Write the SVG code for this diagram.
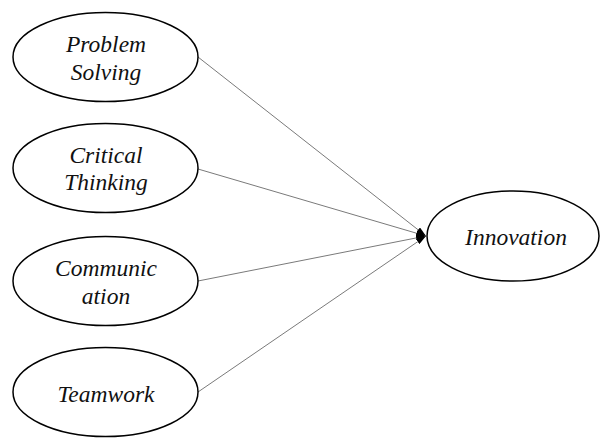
<svg xmlns="http://www.w3.org/2000/svg" width="600" height="438" viewBox="0 0 600 438">
<style>
.node ellipse{fill:#fff;stroke:#000;stroke-width:1.5}
.node text{font-family:"Liberation Serif","Times New Roman",serif;font-style:italic;font-size:23.5px;text-anchor:middle;fill:#111}
.edge{stroke:#7a7a7a;stroke-width:1;fill:none;marker-end:url(#arr)}
</style>
<defs>
<marker id="arr" viewBox="0 0 10 6" refX="10" refY="3" markerWidth="10" markerHeight="6" markerUnits="userSpaceOnUse" orient="auto">
<path d="M0,0 L10,3 L0,6 Z" fill="#000"/>
</marker>
</defs>
<rect width="600" height="438" fill="#fff"/>
<g id="connectors">
<line class="edge" x1="198" y1="57" x2="426" y2="236"/>
<line class="edge" x1="198" y1="169" x2="426" y2="236"/>
<line class="edge" x1="198" y1="281" x2="426" y2="236"/>
<line class="edge" x1="198" y1="392" x2="426" y2="236"/>
</g>
<g id="problem-solving" class="node">
<ellipse cx="105.5" cy="57" rx="92.5" ry="44.5"/>
<text x="106" y="52">Problem</text>
<text x="106" y="80">Solving</text>
</g>
<g id="critical-thinking" class="node">
<ellipse cx="105.5" cy="168" rx="92.5" ry="44.5"/>
<text x="106" y="163">Critical</text>
<text x="106" y="190">Thinking</text>
</g>
<g id="communication" class="node">
<ellipse cx="105.5" cy="281" rx="92.5" ry="44.5"/>
<text x="106" y="276">Communic</text>
<text x="106" y="304">ation</text>
</g>
<g id="teamwork" class="node">
<ellipse cx="105.5" cy="392" rx="92.5" ry="44.5"/>
<text x="106" y="402">Teamwork</text>
</g>
<g id="innovation" class="node">
<ellipse cx="513" cy="236" rx="86" ry="45"/>
<text x="516" y="245">Innovation</text>
</g>
</svg>
